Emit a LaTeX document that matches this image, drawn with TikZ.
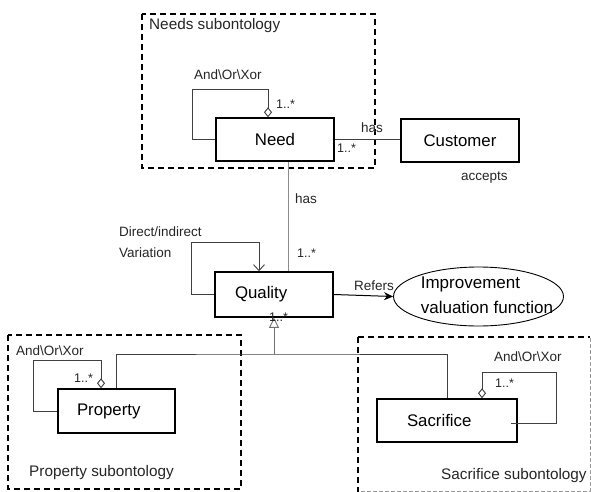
\documentclass[tikz,border=0pt]{standalone}
\usepackage{fontspec}
\setmainfont{Liberation Sans}
\usetikzlibrary{arrows.meta,shapes.geometric,calc}
\tikzset{
  umlbox/.style={draw=black, line width=1.5pt, minimum height=43pt, inner sep=0pt, font=\fontsize{16.8}{20}\selectfont},
  lbl/.style={inner sep=0pt, anchor=west, font=\fontsize{13.5}{21}\selectfont, text=black!85},
  mult/.style={inner sep=0pt, anchor=west, font=\fontsize{12.5}{15}\selectfont, text=black!85},
  sublbl/.style={inner sep=0pt, anchor=west, font=\fontsize{15.3}{18}\selectfont, text=black!85},
  subbox/.style={draw=black, line width=1.8pt, dash pattern=on 6pt off 4pt},
  conn/.style={draw=black!75, line width=0.9pt},
  grayconn/.style={draw=black!45, line width=1pt},
  agg/.style={conn, -{Diamond[open,length=10pt,width=8pt,line width=0.9pt]}},
}
\begin{document}
\begin{tikzpicture}[x=1pt,y=-1pt]
\useasboundingbox (0,0) rectangle (591,492);
\fill[white] (0,0) rectangle (591,492);

% subontology frames
\draw[subbox] (142,14) rectangle (375,168);
\draw[subbox] (8,335) rectangle (241,489);
\draw[draw=black!40, line width=0.7pt, dash pattern=on 4pt off 2pt] (590,338) -- (590,491) -- (360,491);
\draw[subbox] (358,337) -- (590,337);
\draw[subbox] (358,337) -- (358,492);

\node[sublbl] (needsub) at (149,26) {Needs subontology};
\node[sublbl] (propsub) at (29,473) {Property subontology};
\node[sublbl] (sacsub) at (441,476) {Sacrifice subontology};

% classes
\node[umlbox, minimum width=118pt] (Need) at (275,139.5) {Need};
\node[umlbox, minimum width=118pt] (Customer) at (460,140.5) {Customer};
\node[umlbox, text width=78pt, align=left, inner xsep=20pt, minimum height=45pt] (Quality) at (274,294.5) {Quality};
\node[umlbox, text width=79pt, align=left, inner xsep=19pt, minimum height=44pt] (Property) at (116.5,411) {Property};
\node[umlbox, text width=80pt, align=left, inner xsep=30pt] (Sacrifice) at (447,420.5) {Sacrifice};
\node[ellipse, draw=black, line width=0.9pt, minimum width=170pt, minimum height=59pt, inner sep=0pt] (Improve) at (478.5,296.5) {};
\node[inner sep=0pt, align=left, font=\fontsize{17}{25}\selectfont] (ImproveText) at (487,295.5) {Improvement\\valuation function};

% Need self association
\coordinate (nloop) at (192,89);
\draw[agg] (Need.west) -| (nloop) -| ([xshift=-7pt]Need.north);
\node[lbl] (needaox) at (194,75) {And\textbackslash Or\textbackslash Xor};
\node[mult] (needm) at (276,104) {1..*};

% Need - Customer
\draw[conn] (Need.east) -- (Need.east -| Customer.west);
\node[lbl] (has1) at (361,128) {has};
\node[mult] (hasm1) at (337,148) {1..*};
\node[lbl] (accepts) at (461,178) {accepts};

% Need - Quality
\draw[grayconn] ([xshift=13pt]Need.south) -- ([xshift=13pt]Need.south |- Quality.north);
\node[lbl] (has2) at (295,199) {has};
\node[mult] (hasm2) at (297,253) {1..*};

% Quality self association
\coordinate (qloop) at (191,242);
\draw[conn, -{Straight Barb[length=6pt,width=11pt,line width=0.9pt]}] (Quality.west) -| (qloop) -| ([xshift=-15pt]Quality.north);
\node[lbl, align=left] (dirvar) at (119,242.5) {Direct/indirect\\Variation};

% Refers
\draw[draw=black, line width=1pt, -{Stealth[length=9pt,width=8pt]}] (Quality.east) -- (Improve.west);
\node[lbl] (refers) at (354,286) {Refers};

% generalization
\coordinate (gj) at (274,354);
\draw[conn, draw=black!55, -{Triangle[open,length=10pt,width=10pt,line width=0.9pt]}] (gj) -- (Quality.south);
\draw[conn] (Property.north) |- (gj) -| (Sacrifice.north);
\node[mult] (genm) at (269,317) {1..*};

% Property self association
\coordinate (ploop) at (33,360);
\draw[agg] (Property.west) -| (ploop) -| ([xshift=-15.5pt]Property.north);
\node[lbl] (propaox) at (16,351) {And\textbackslash Or\textbackslash Xor};
\node[mult] (propm) at (74,378) {1..*};

% Sacrifice self association
\coordinate (sstart) at ([xshift=64pt,yshift=-2.5pt]Sacrifice.center);
\coordinate (sloop) at (556,372);
\draw[agg] (sstart) -| (sloop) -| ([xshift=35pt]Sacrifice.north);
\node[lbl] (sacaox) at (494,357) {And\textbackslash Or\textbackslash Xor};
\node[mult] (sacm) at (495,383) {1..*};
\end{tikzpicture}
\end{document}
